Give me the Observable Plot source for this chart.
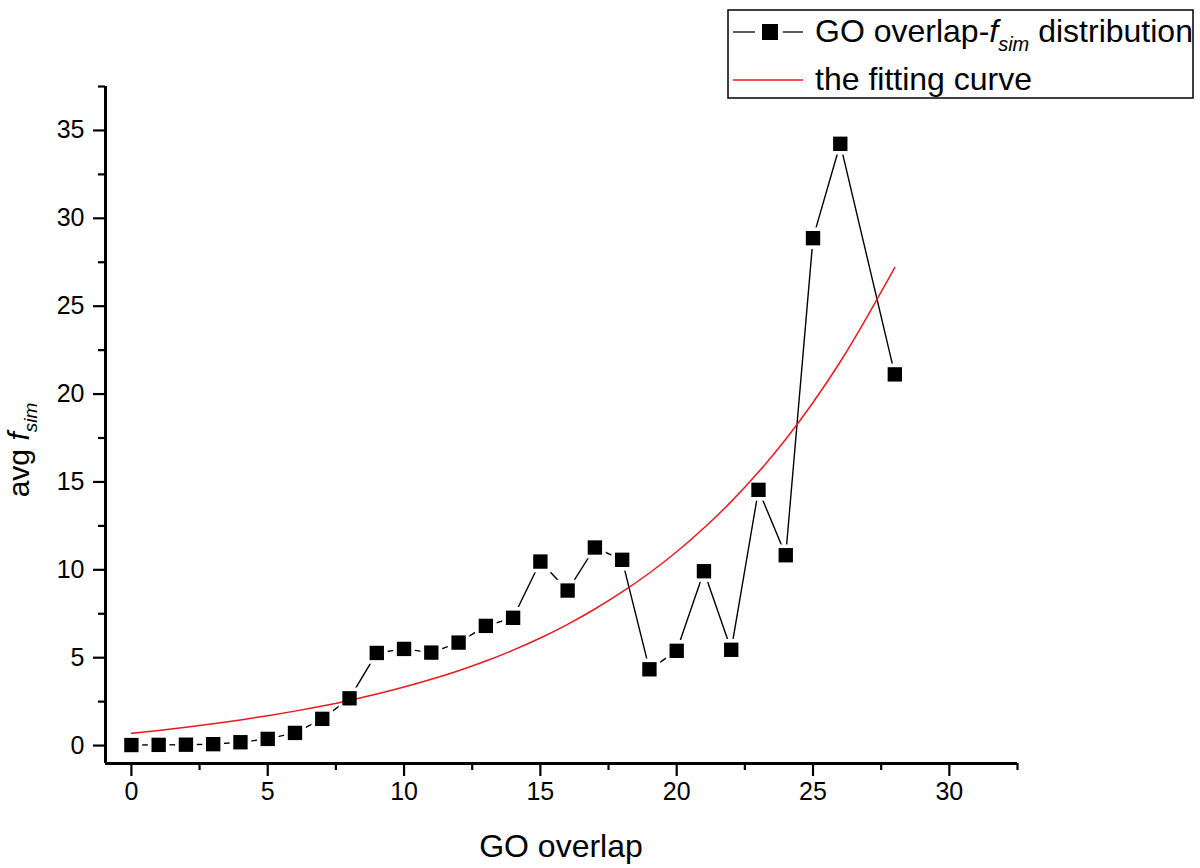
<!DOCTYPE html>
<html>
<head>
<meta charset="utf-8">
<script src="https://cdn.jsdelivr.net/npm/d3@7"></script>
<script src="https://cdn.jsdelivr.net/npm/@observablehq/plot@0.6"></script>
<style>
  html, body { margin: 0; padding: 0; background: #fff; }
  #wrap { position: relative; width: 1200px; height: 868px; font-family: "Liberation Sans", Arial, sans-serif; }
  #legend { position: absolute; left: 727px; top: 9px; }
</style>
</head>
<body>
<div id="wrap">
  <div id="chart"></div>
  <svg id="legend" width="468" height="91" font-family="Liberation Sans, Arial, sans-serif">
    <rect x="1" y="1" width="465" height="88" fill="#fff" stroke="#000" stroke-width="1.5"></rect>
    <line x1="6" x2="28" y1="23" y2="23" stroke="#000" stroke-width="1.3"></line>
    <rect x="35" y="15" width="16" height="16" fill="#000"></rect>
    <line x1="56" x2="76" y1="23" y2="23" stroke="#000" stroke-width="1.3"></line>
    <text x="88" y="33" font-size="32">GO overlap-<tspan font-style="italic">f</tspan><tspan font-style="italic" font-size="20" dy="9">sim</tspan><tspan dy="-9"> distribution</tspan></text>
    <line x1="6" x2="76" y1="71" y2="71" stroke="#e8191f" stroke-width="1.5"></line>
    <text x="88" y="81" font-size="32">the fitting curve</text>
  </svg>
</div>
<script>
// GO overlap-f_sim distribution
const overlap = [0, 1, 2, 3, 4, 5, 6, 7, 8, 9, 10, 11, 12, 13, 14, 15, 16, 17, 18, 19, 20, 21, 22, 23, 24, 25, 26, 28];
const avgFsim = [0.03, 0.04, 0.05, 0.08, 0.19, 0.38, 0.72, 1.52, 2.69, 5.27, 5.50, 5.29, 5.86, 6.81, 7.27, 10.47, 8.82, 11.27, 10.57, 4.34, 5.39, 9.92, 5.45, 14.55, 10.83, 28.87, 34.24, 21.12];

// the fitting curve
const fitX = [0, 1, 2, 3, 4, 5, 6, 7, 8, 9, 10, 11, 12, 13, 14, 15, 16, 17, 18, 19, 20, 21, 22, 23, 24, 25, 26, 27, 28];
const fitY = [0.70, 0.86, 1.04, 1.24, 1.46, 1.70, 1.96, 2.25, 2.57, 2.93, 3.33, 3.77, 4.26, 4.81, 5.43, 6.12, 6.90, 7.77, 8.74, 9.82, 11.03, 12.38, 13.88, 15.56, 17.43, 19.52, 21.84, 24.44, 27.20];

// axis ticks
const xTicks = [0, 5, 10, 15, 20, 25, 30];
const xMinor = [2.5, 7.5, 12.5, 17.5, 22.5, 27.5, 32.5];
const yTicks = [0, 5, 10, 15, 20, 25, 30, 35];
const yMinor = [2.5, 7.5, 12.5, 17.5, 22.5, 27.5, 32.5, 37.5];

const xDomain = [-0.95, 32.5];
const yDomain = [-1.02, 37.5];

const pts = overlap.map((x, i) => ({x, y: avgFsim[i]}));
const fit = fitX.map((x, i) => ({x, y: fitY[i]}));

const chart = Plot.plot({
  width: 1200,
  height: 868,
  marginLeft: 105,
  marginRight: 183,
  marginTop: 86,
  marginBottom: 105,
  style: {fontFamily: "Liberation Sans, Arial, sans-serif", fontSize: "25px", color: "#000", background: "#fff"},
  x: {domain: xDomain, label: null},
  y: {domain: yDomain, label: null},
  marks: [
    Plot.axisX({ticks: xTicks, tickSize: 13, tickPadding: 6, tickWidth: 2.2, strokeWidth: 2.2, fontSize: 25, label: null, tickFormat: d => String(d)}),
    Plot.axisX({ticks: xMinor, tickSize: 7, tickWidth: 2.2, strokeWidth: 2.2, tickFormat: () => "", label: null}),
    Plot.axisY({ticks: yTicks, tickSize: 12, tickPadding: 9, strokeWidth: 2.2, fontSize: 25, label: null, tickFormat: d => String(d)}),
    Plot.axisY({ticks: yMinor, tickSize: 7, strokeWidth: 2.2, tickFormat: () => "", label: null}),
    Plot.ruleX([xDomain[0]], {stroke: "#000", strokeWidth: 3}),
    Plot.ruleY([yDomain[0]], {stroke: "#000", strokeWidth: 3}),
    Plot.line(pts, {x: "x", y: "y", stroke: "#000", strokeWidth: 1.4}),
    Plot.dot(pts, {x: "x", y: "y", symbol: "square", r: 12.2, fill: "#fff", stroke: "none"}),
    Plot.line(fit, {x: "x", y: "y", stroke: "#e8191f", strokeWidth: 1.5, curve: "natural"}),
    Plot.dot(pts, {x: "x", y: "y", symbol: "square", r: 8.1, fill: "#000", stroke: "none"})
  ]
});
document.getElementById("chart").appendChild(chart);

const svg = d3.select(chart);
svg.append("text")
  .attr("x", 561).attr("y", 857)
  .attr("text-anchor", "middle")
  .attr("font-size", 32)
  .attr("fill", "#000")
  .text("GO overlap");

const yt = svg.append("text")
  .attr("transform", "translate(29,450) rotate(-90)")
  .attr("text-anchor", "middle")
  .attr("font-size", 30)
  .attr("fill", "#000");
yt.append("tspan").text("avg ");
yt.append("tspan").attr("font-style", "italic").text("f");
yt.append("tspan").attr("font-style", "italic").attr("font-size", 19).attr("dy", 8).text("sim");
</script>
</body>
</html>
